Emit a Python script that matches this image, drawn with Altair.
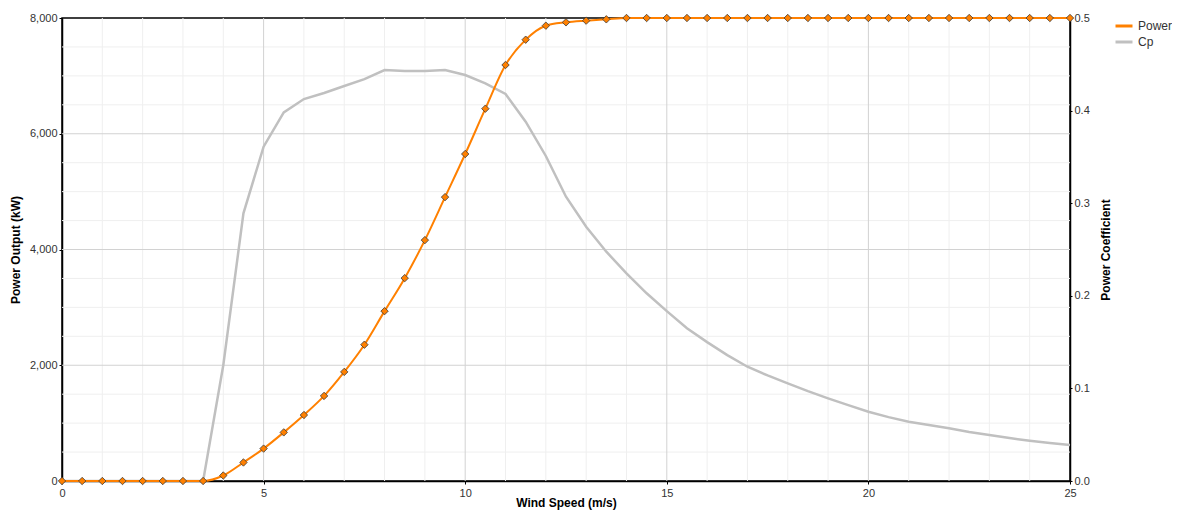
import altair as alt
import pandas as pd

# ---- data ----
wind_speed = [0.0, 0.5, 1.0, 1.5, 2.0, 2.5, 3.0, 3.5, 4.0, 4.5, 5.0, 5.5, 6.0, 6.5,
              7.0, 7.5, 8.0, 8.5, 9.0, 9.5, 10.0, 10.5, 11.0, 11.5, 12.0, 12.5,
              13.0, 13.5, 14.0, 14.5, 15.0, 15.5, 16.0, 16.5, 17.0, 17.5, 18.0,
              18.5, 19.0, 19.5, 20.0, 20.5, 21.0, 21.5, 22.0, 22.5, 23.0, 23.5,
              24.0, 24.5, 25.0]

power_kw = [0, 0, 0, 0, 0, 0, 0, 0, 95, 320, 560, 840, 1140, 1470,
            1885, 2355, 2935, 3505, 4162, 4905, 5650, 6433, 7188, 7625, 7867, 7925,
            7954, 7977, 8000, 8000, 8000, 8000, 8000, 8000, 8000, 8000, 8000,
            8000, 8000, 8000, 8000, 8000, 8000, 8000, 8000, 8000, 8000, 8000,
            8000, 8000, 8000]

power_coef = [0, 0, 0, 0, 0, 0, 0, 0, 0.125, 0.289, 0.361, 0.398, 0.4125, 0.419,
              0.4266, 0.434, 0.4438, 0.4428, 0.4428, 0.4438, 0.4384, 0.4295, 0.418,
              0.388, 0.351, 0.307, 0.2746, 0.2476, 0.2243, 0.2027, 0.1834, 0.165,
              0.150, 0.136, 0.1234, 0.114, 0.1055, 0.097, 0.0893, 0.082, 0.0748,
              0.069, 0.064, 0.0605, 0.0569, 0.053, 0.0497, 0.0464, 0.0435, 0.041,
              0.0389]

series_names = ["Power", "Cp"]
series_colors = ["#FF8000", "#C0C0C0"]

x_ticks = [0, 5, 10, 15, 20, 25]
y_ticks = [0, 2000, 4000, 6000, 8000]
cp_ticks = [0.0, 0.1, 0.2, 0.3, 0.4, 0.5]

grid_x_minor = [1, 2, 3, 4, 6, 7, 8, 9, 11, 12, 13, 14, 16, 17, 18, 19, 21, 22, 23, 24]
grid_x_major = [5, 10, 15, 20]
grid_y_minor = [500, 1000, 1500, 2500, 3000, 3500, 4500, 5000, 5500, 6500, 7000, 7500]
grid_y_major = [2000, 4000, 6000]

df = pd.DataFrame({"ws": wind_speed, "power": power_kw, "cp": power_coef})

FONT = "Liberation Sans"
xs = alt.Scale(domain=[0, 25], nice=False, zero=False)
ys = alt.Scale(domain=[0, 8000], nice=False)
cps = alt.Scale(domain=[0, 0.5], nice=False)
color_scale = alt.Scale(domain=series_names, range=series_colors)

x_axis = alt.Axis(values=x_ticks, format="d", title="Wind Speed (m/s)",
                  tickSize=3, labelPadding=3, titleY=21,
                  titleBaseline="middle", labelFlush=False, labelOverlap=False)

legend = alt.Legend(title=None, orient="none", legendX=1052, legendY=-2,
                    direction="vertical", symbolType="stroke", symbolSize=289,
                    symbolStrokeWidth=3, labelFontSize=12, labelColor="#333333",
                    labelFont=FONT, rowPadding=0, labelOffset=4)

gx_minor = alt.Chart(pd.DataFrame({"x": grid_x_minor})).mark_rule(
    color="#efefef", strokeWidth=1).encode(x=alt.X("x:Q", scale=xs, axis=x_axis))
gy_minor = alt.Chart(pd.DataFrame({"y": grid_y_minor})).mark_rule(
    color="#efefef", strokeWidth=1).encode(y=alt.Y("y:Q", scale=ys, axis=None))
gx_major = alt.Chart(pd.DataFrame({"x": grid_x_major})).mark_rule(
    color="#d2d2d2", strokeWidth=1).encode(x=alt.X("x:Q", scale=xs, axis=x_axis))
gy_major = alt.Chart(pd.DataFrame({"y": grid_y_major})).mark_rule(
    color="#d2d2d2", strokeWidth=1).encode(y=alt.Y("y:Q", scale=ys, axis=None))

cp_line = alt.Chart(df).transform_calculate(series="'Cp'").mark_line(
    strokeWidth=2.5).encode(
    x=alt.X("ws:Q", scale=xs, axis=x_axis),
    y=alt.Y("cp:Q", scale=cps,
            axis=alt.Axis(orient="right", values=cp_ticks, format=".1f",
                          title="Power Coefficient", tickSize=2, labelPadding=2,
                          titleAngle=270, titleX=35, titleY=231.5,
                          titleBaseline="middle", labelFlush=False)),
    color=alt.Color("series:N", scale=color_scale, legend=legend),
)

power_line = alt.Chart(df).transform_calculate(series="'Power'").mark_line(
    strokeWidth=2, interpolate="monotone").encode(
    x=alt.X("ws:Q", scale=xs, axis=x_axis),
    y=alt.Y("power:Q", scale=ys,
            axis=alt.Axis(orient="left", values=y_ticks, format=",d",
                          title="Power Output (kW)", tickSize=3, labelPadding=2,
                          titleAngle=270, titleX=-47, titleY=231.5,
                          titleBaseline="middle", labelFlush=False)),
    color=alt.Color("series:N", scale=color_scale, legend=legend),
)

points = alt.Chart(df).mark_point(
    shape="diamond", filled=True, fill="#FF8000", stroke="#3a3a3a",
    strokeWidth=0.8, size=55, opacity=1).encode(
    x=alt.X("ws:Q", scale=xs, axis=x_axis),
    y=alt.Y("power:Q", scale=ys, axis=None),
)

chart = alt.layer(gx_minor, gy_minor, gx_major, gy_major, cp_line, power_line, points
                  ).resolve_scale(y="independent").properties(
    width=1008, height=463,
    autosize=alt.AutoSizeParams(type="none"),
    padding={"left": 54, "top": 10, "right": 102, "bottom": 30},
).configure(font=FONT).configure_view(
    stroke="#000000", strokeWidth=1.5
).configure_axis(
    labelFont=FONT, labelColor="#333333", labelFontSize=11,
    titleFont=FONT, titleFontSize=12, titleFontWeight="bold", titleColor="#000000",
    domainColor="#000000", domainWidth=1.5, tickColor="#000000", grid=False,
)

chart.save("out.html", embed_options={"renderer": "svg", "actions": False})
